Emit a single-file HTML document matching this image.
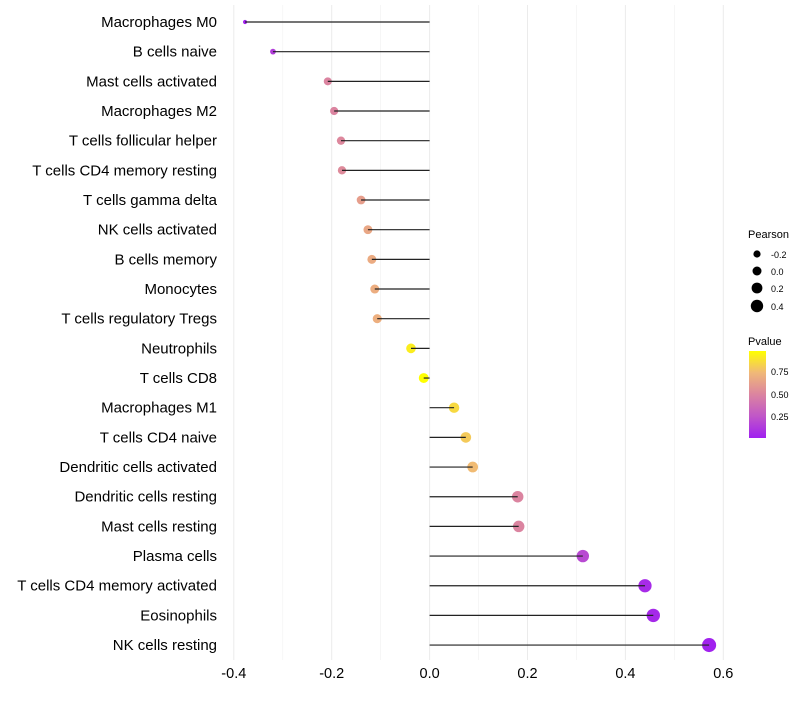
<!DOCTYPE html>
<html><head><meta charset="utf-8"><style>
body{margin:0;background:#fff;font-family:"Liberation Sans",sans-serif;}
</style></head><body>
<svg id="chart" width="800" height="700" xmlns="http://www.w3.org/2000/svg">
<defs><linearGradient id="pg" x1="0" y1="1" x2="0" y2="0">
<stop offset="0" stop-color="#A020F0"/><stop offset="0.25" stop-color="#C056C8"/><stop offset="0.5" stop-color="#DB84A0"/><stop offset="0.75" stop-color="#F0B878"/><stop offset="1" stop-color="#FFFF00"/></linearGradient></defs>
<g id="grid"></g><g id="points"></g><g id="marks"></g><g id="labels"></g>
<g font-size="10">
<text x="748" y="238" font-size="11">Pearson</text>
<circle cx="757" cy="254" r="3.6"/><text x="771" y="258" font-size="9">-0.2</text>
<circle cx="757" cy="271" r="4.5"/><text x="771" y="275" font-size="9">0.0</text>
<circle cx="757" cy="288" r="5.4"/><text x="771" y="292" font-size="9">0.2</text>
<circle cx="757" cy="306" r="6.2"/><text x="771" y="310" font-size="9">0.4</text>
</g>
<g>
<text x="748" y="345" font-size="11">Pvalue</text>
<rect x="749" y="351" width="17" height="87" fill="url(#pg)"/>
<text x="771" y="375" font-size="9">0.75</text>
<text x="771" y="398" font-size="9">0.50</text>
<text x="771" y="420" font-size="9">0.25</text>
</g>
</svg>
<script>
const categories=["Macrophages M0","B cells naive","Mast cells activated","Macrophages M2","T cells follicular helper","T cells CD4 memory resting","T cells gamma delta","NK cells activated","B cells memory","Monocytes","T cells regulatory  Tregs ","Neutrophils","T cells CD8","Macrophages M1","T cells CD4 naive","Dendritic cells activated","Dendritic cells resting","Mast cells resting","Plasma cells","T cells CD4 memory activated","Eosinophils","NK cells resting"];
const pearson=[-0.377,-0.32,-0.208,-0.195,-0.181,-0.179,-0.14,-0.126,-0.118,-0.112,-0.107,-0.038,-0.012,0.05,0.074,0.088,0.18,0.182,0.313,0.44,0.457,0.571];
const pvalue=[0.03,0.15,0.5,0.5,0.52,0.53,0.62,0.66,0.68,0.69,0.7,0.92,0.99,0.85,0.8,0.75,0.5,0.5,0.2,0.07,0.06,0.03];
const xticks=[-0.4,-0.2,0,0.2,0.4,0.6];
const xminor=[-0.3,-0.1,0.1,0.3,0.5];
const NS="http://www.w3.org/2000/svg";
const x=v=>429.6+v*489.5;
const y=i=>22+i*29.67;
const stops=[[0,[160,32,240]],[0.25,[192,86,200]],[0.5,[219,132,160]],[0.75,[240,184,120]],[1,[255,255,0]]];
function col(p){const t=Math.max(0,Math.min(1,(p-0.02)/0.96));for(let k=1;k<stops.length;k++){if(t<=stops[k][0]){const a=stops[k-1],b=stops[k],f=(t-a[0])/(b[0]-a[0]);const c=a[1].map((v,j)=>Math.round(v+(b[1][j]-v)*f));return `rgb(${c})`;}}return "rgb(255,255,0)";}
function rad(v){const s=v<-0.21?16+70*(v+0.21):16+43*(v+0.21);return Math.sqrt(Math.max(2,s));}
function mk(tag,at,parent){const e=document.createElementNS(NS,tag);for(const k in at)e.setAttribute(k,at[k]);parent.appendChild(e);return e;}
const grid=document.getElementById('grid'),marks=document.getElementById('marks'),points=document.getElementById('points'),labels=document.getElementById('labels');
xticks.forEach(v=>{const l=mk('line',{x1:x(v),x2:x(v),y1:5,y2:660,stroke:'#ebebeb','stroke-width':1},grid);


const t=mk('text',{x:x(v),y:678,'text-anchor':'middle','font-size':14.5,fill:'#000'},labels);t.textContent=v===0?'0.0':v.toFixed(1);

});
xminor.forEach(v=>{const l=mk('line',{x1:x(v),x2:x(v),y1:5,y2:660,stroke:'#f3f3f3','stroke-width':0.7},grid);

});
categories.forEach((c,i)=>{
const t=mk('text',{x:217,y:y(i)+5,'text-anchor':'end','font-size':15,fill:'#000'},labels);t.textContent=c;


const d=mk('circle',{cx:x(pearson[i]),cy:y(i),r:rad(pearson[i]),fill:col(pvalue[i])},points);


const l=mk('line',{x1:x(0),x2:x(pearson[i]),y1:y(i),y2:y(i),stroke:'#222','stroke-width':1.2},marks);


});
</script>
</body></html>
